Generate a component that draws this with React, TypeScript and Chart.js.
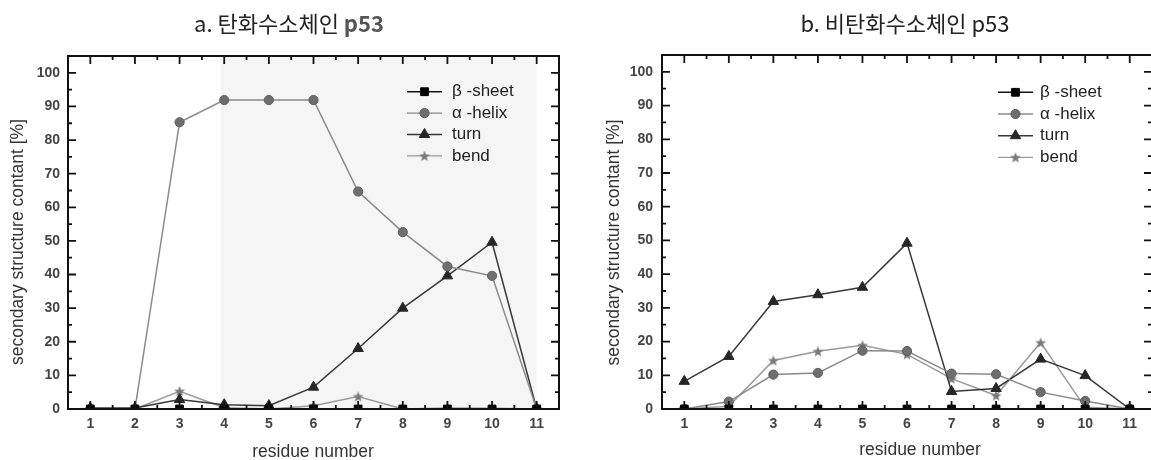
import React, { useEffect, useRef } from 'react';
import { Chart, registerables } from 'chart.js';

Chart.register(...registerables);

// ---------------- data ----------------
const residues = [1, 2, 3, 4, 5, 6, 7, 8, 9, 10, 11];
const seriesNames = ['β -sheet', 'α -helix', 'turn', 'bend'];

// a. 탄화수소체인 p53
const aBeta = [0, 0, 0, 0, 0, 0, 0, 0, 0, 0, 0];
const aAlpha = [0, 0, 85.3, 91.9, 91.9, 91.9, 64.7, 52.6, 42.4, 39.6, 0];
const aTurn = [0.3, 0.3, 2.8, 1.3, 1.0, 6.5, 18.0, 30.0, 39.6, 49.6, 0];
const aBend = [0, 0, 5.3, 0.4, 0, 1.0, 3.7, 0, 0.3, 0.2, 0];

// b. 비탄화수소체인 p53
const bBeta = [0, 0, 0, 0, 0, 0, 0, 0, 0, 0, 0];
const bAlpha = [0, 2.2, 10.2, 10.7, 17.3, 17.2, 10.5, 10.3, 5.0, 2.4, 0];
const bTurn = [8.2, 15.6, 31.9, 33.9, 36.1, 49.2, 5.2, 6.1, 14.8, 9.9, 0];
const bBend = [0, 0.8, 14.4, 17.1, 18.9, 16.2, 9.0, 4.0, 19.7, 0.5, 0];

// axes / ticks
const yMajorTicks = [0, 10, 20, 30, 40, 50, 60, 70, 80, 90, 100];
const yMinorTicks = [5, 15, 25, 35, 45, 55, 65, 75, 85, 95];
const xMajorTicks = residues;
const xMinorTicks = [1.5, 2.5, 3.5, 4.5, 5.5, 6.5, 7.5, 8.5, 9.5, 10.5];
const xRange = [0.5, 11.5];
const yRange = [0, 105];
const shadeRangeA = [3.92, 11];

// texts
const titleA = 'a. 탄화수소체인 ';
const titleB = 'b. 비탄화수소체인 ';
const titleSuffix = 'p53';
const xTitle = 'residue number';
const yTitle = 'secondary structure contant [%]';

// ---------------- styles ----------------
const CANVAS_H = 470;
const styles = [
  { line: '#111111', fill: '#000000', stroke: '#000000', shape: 'rect', radius: 5.5 },
  { line: '#8a8a8a', fill: '#6e6e6e', stroke: '#5e5e5e', shape: 'circle', radius: 4.6 },
  { line: '#383838', fill: '#262626', stroke: '#262626', shape: 'triangle', radius: 6 },
  { line: '#9a9a9a', fill: '#7a7a7a', stroke: '#7a7a7a', shape: 'star', radius: 5.5 },
];

const panels = [
  {
    key: 'a',
    title: titleA,
    suffixBold: true,
    series: [aBeta, aAlpha, aTurn, aBend],
    shade: shadeRangeA,
    canvasLeft: 0,
    canvasWidth: 576,
    area: { left: 68, top: 56, right: 559, bottom: 409 },
    titlePos: { x: 289, y: 24 },
    yTitlePos: { x: 18.5, y: 242 },
    xTitlePos: { x: 313, y: 452 },
    legend: { x1: 407, x2: 442, tx: 452, y0: 91.7, dy: 21.4 },
    yPad: 8,
  },
  {
    key: 'b',
    title: titleB,
    suffixBold: false,
    series: [bBeta, bAlpha, bTurn, bBend],
    shade: null,
    canvasLeft: 576,
    canvasWidth: 596,
    area: { left: 662, top: 55, right: 1152, bottom: 409 },
    titlePos: { x: 905, y: 24 },
    yTitlePos: { x: 614.5, y: 242.5 },
    xTitlePos: { x: 920, y: 450 },
    legend: { x1: 998, x2: 1033, tx: 1040, y0: 92.3, dy: 21.7 },
    yPad: 9,
  },
];

function makeStar(size: number, fill: string) {
  const c = document.createElement('canvas');
  c.width = size;
  c.height = size;
  const g = c.getContext('2d')!;
  const cx = size / 2;
  const cy = size / 2 + 0.5;
  const R = size / 2 - 0.3;
  const r = R * 0.42;
  g.beginPath();
  for (let i = 0; i < 10; i++) {
    const a = -Math.PI / 2 + (i * Math.PI) / 5;
    const rad = i % 2 ? r : R;
    g.lineTo(cx + rad * Math.cos(a), cy + rad * Math.sin(a));
  }
  g.closePath();
  g.fillStyle = fill;
  g.fill();
  return c;
}

function drawMarker(ctx: CanvasRenderingContext2D, st: any, star: HTMLCanvasElement, x: number, y: number) {
  ctx.save();
  ctx.fillStyle = st.fill;
  ctx.strokeStyle = st.stroke;
  ctx.lineWidth = 1;
  const r = st.radius;
  if (st.shape === 'star') {
    ctx.drawImage(star, x - star.width / 2, y - star.height / 2);
  } else {
    ctx.beginPath();
    if (st.shape === 'circle') {
      ctx.arc(x, y, r, 0, Math.PI * 2);
    } else if (st.shape === 'rect') {
      const s = r * Math.SQRT1_2;
      ctx.rect(x - s, y - s, 2 * s, 2 * s);
    } else if (st.shape === 'triangle') {
      ctx.moveTo(x, y - r);
      ctx.lineTo(x + r * Math.sin((2 * Math.PI) / 3), y - r * Math.cos((2 * Math.PI) / 3));
      ctx.lineTo(x + r * Math.sin((4 * Math.PI) / 3), y - r * Math.cos((4 * Math.PI) / 3));
      ctx.closePath();
    }
    ctx.fill();
    ctx.stroke();
  }
  ctx.restore();
}

function makeConfig(panel: any, star: HTMLCanvasElement) {
  const off = panel.canvasLeft;
  const area = panel.area;
  const tickFont = { family: '"Liberation Sans", Arial, sans-serif', size: 14, weight: 'bold' as const };

  const decor = {
    id: 'decor_' + panel.key,
    beforeDatasetsDraw(chart: any) {
      if (!panel.shade) return;
      const { ctx, chartArea } = chart;
      const xs = chart.scales.x;
      const x1 = xs.getPixelForValue(panel.shade[0]);
      const x2 = xs.getPixelForValue(panel.shade[1]);
      ctx.save();
      ctx.fillStyle = '#f5f5f5';
      ctx.fillRect(x1, chartArea.top, x2 - x1, chartArea.bottom - chartArea.top);
      ctx.restore();
    },
    afterDraw(chart: any) {
      const { ctx, chartArea } = chart;
      const { left, right, top, bottom } = chartArea;
      const xs = chart.scales.x;
      const ys = chart.scales.y;
      ctx.save();
      // frame
      ctx.strokeStyle = '#111';
      ctx.lineWidth = 2;
      ctx.strokeRect(left, top, right - left, bottom - top);
      // ticks
      ctx.lineWidth = 1.8;
      ctx.beginPath();
      const tick = (len: number) => (v: number) => {
        const py = ys.getPixelForValue(v);
        ctx.moveTo(left, py); ctx.lineTo(left + len, py);
        ctx.moveTo(right, py); ctx.lineTo(right - len, py);
      };
      yMajorTicks.forEach(tick(8));
      yMinorTicks.forEach(tick(4));
      const xtick = (len: number) => (v: number) => {
        const px = xs.getPixelForValue(v);
        ctx.moveTo(px, bottom); ctx.lineTo(px, bottom - len);
        ctx.moveTo(px, top); ctx.lineTo(px, top + len);
      };
      xMajorTicks.forEach(xtick(8));
      xMinorTicks.forEach(xtick(4));
      ctx.stroke();

      // legend
      const lg = panel.legend;
      ctx.font = '17px "Liberation Sans", Arial, sans-serif';
      ctx.textBaseline = 'middle';
      ctx.textAlign = 'left';
      seriesNames.forEach((name, i) => {
        const st = styles[i];
        const y = lg.y0 + i * lg.dy;
        ctx.strokeStyle = st.line;
        ctx.lineWidth = 1.4;
        ctx.beginPath();
        ctx.moveTo(lg.x1 - off, y);
        ctx.lineTo(lg.x2 - off, y);
        ctx.stroke();
        drawMarker(ctx, st, star, (lg.x1 + lg.x2) / 2 - off, y);
        ctx.fillStyle = '#222';
        ctx.fillText(name, lg.tx - off, y);
      });

      // chart title
      const tFont = '22px "Noto Sans CJK KR", sans-serif';
      const sFont = (panel.suffixBold ? 'bold ' : '') + '22px "Noto Sans CJK KR", sans-serif';
      ctx.font = tFont;
      const w1 = ctx.measureText(panel.title).width;
      ctx.font = sFont;
      const w2 = ctx.measureText(titleSuffix).width;
      const sx = panel.titlePos.x - off - (w1 + w2) / 2;
      ctx.textAlign = 'left';
      ctx.textBaseline = 'middle';
      ctx.font = tFont;
      ctx.fillStyle = '#222';
      ctx.fillText(panel.title, sx, panel.titlePos.y);
      ctx.font = sFont;
      ctx.fillStyle = panel.suffixBold ? '#555' : '#222';
      ctx.fillText(titleSuffix, sx + w1, panel.titlePos.y);

      // axis titles
      ctx.font = '17.5px "Liberation Sans", Arial, sans-serif';
      ctx.fillStyle = '#333';
      ctx.textAlign = 'center';
      ctx.textBaseline = 'middle';
      ctx.fillText(xTitle, panel.xTitlePos.x - off, panel.xTitlePos.y);
      ctx.translate(panel.yTitlePos.x - off, panel.yTitlePos.y);
      ctx.rotate(-Math.PI / 2);
      ctx.fillText(yTitle, 0, 0);
      ctx.restore();
    },
  };

  return {
    type: 'line' as const,
    data: {
      datasets: panel.series.map((vals: number[], i: number) => {
        const st = styles[i];
        return {
          label: seriesNames[i],
          data: residues.map((r, j) => ({ x: r, y: vals[j] })),
          borderColor: st.line,
          borderWidth: 1.5,
          backgroundColor: st.fill,
          pointStyle: st.shape === 'star' ? star : st.shape,
          pointRadius: st.radius,
          pointBackgroundColor: st.fill,
          pointBorderColor: st.stroke,
          pointBorderWidth: 1,
          tension: 0,
          fill: false,
          clip: 0,
        };
      }),
    },
    options: {
      animation: false as const,
      responsive: false,
      devicePixelRatio: 1,
      events: [],
      layout: {
        padding: {
          left: 0,
          top: area.top,
          right: panel.canvasWidth - (area.right - off),
          bottom: 0,
        },
      },
      plugins: {
        legend: { display: false },
        title: { display: false },
        tooltip: { enabled: false },
      },
      scales: {
        x: {
          type: 'linear' as const,
          min: xRange[0],
          max: xRange[1],
          afterBuildTicks: (s: any) => { s.ticks = xMajorTicks.map((v) => ({ value: v })); },
          afterFit: (s: any) => { s.height = CANVAS_H - area.bottom; },
          grid: { display: false, drawTicks: false },
          border: { display: false },
          ticks: { padding: 7, font: tickFont, color: '#444', autoSkip: false, maxRotation: 0, callback: (v: any) => String(v) },
        },
        y: {
          type: 'linear' as const,
          min: yRange[0],
          max: yRange[1],
          afterBuildTicks: (s: any) => { s.ticks = yMajorTicks.map((v) => ({ value: v })); },
          afterFit: (s: any) => { s.width = area.left - off; },
          grid: { display: false, drawTicks: false },
          border: { display: false },
          ticks: { padding: panel.yPad, font: tickFont, color: '#444', callback: (v: any) => String(v) },
        },
      },
    },
    plugins: [decor],
  };
}

function Panel({ panel }: { panel: any }) {
  const ref = useRef<HTMLCanvasElement | null>(null);
  useEffect(() => {
    const star = makeStar(12, styles[3].fill);
    const chart = new Chart(ref.current!, makeConfig(panel, star) as any);
    return () => chart.destroy();
  }, [panel]);
  return (
    <canvas
      ref={ref}
      width={panel.canvasWidth}
      height={CANVAS_H}
      style={{ position: 'absolute', left: panel.canvasLeft, top: 0, width: panel.canvasWidth, height: CANVAS_H }}
    />
  );
}

export default function App() {
  return (
    <div
      style={{
        position: 'absolute',
        left: 0,
        top: 0,
        width: 1151,
        height: 460,
        overflow: 'hidden',
        background: '#ffffff',
      }}
    >
      {panels.map((p) => (
        <Panel key={p.key} panel={p} />
      ))}
    </div>
  );
}
